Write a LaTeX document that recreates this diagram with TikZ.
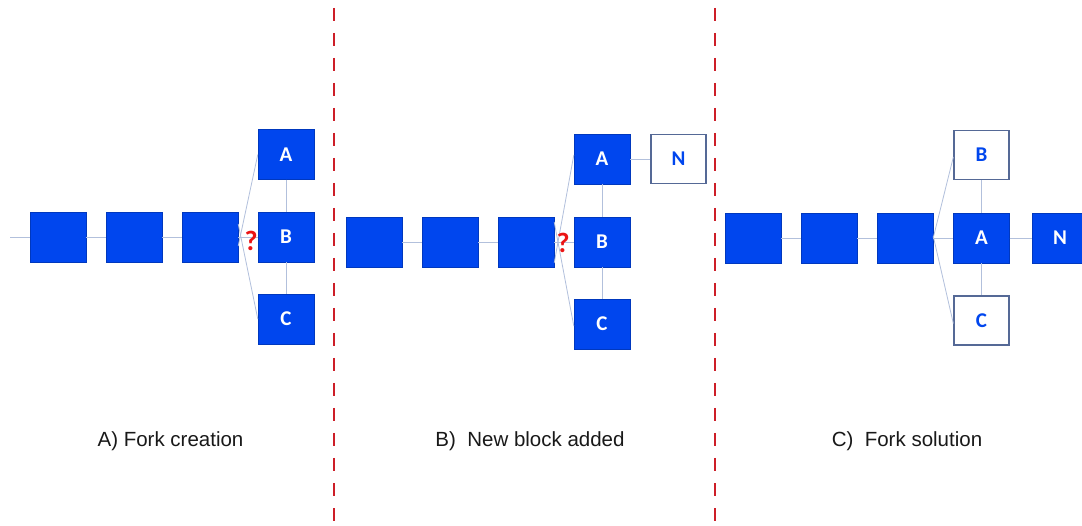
\documentclass[tikz,border=0pt]{standalone}
\usepackage{fontspec}
\setmainfont{Liberation Sans}
\newfontfamily\boxfont{Carlito}
\definecolor{blkblue}{RGB}{0,70,238}
\definecolor{outl}{RGB}{85,105,150}
\definecolor{conn}{RGB}{178,192,220}
\definecolor{divred}{RGB}{205,30,40}
\definecolor{qred}{RGB}{235,20,20}
\begin{document}
\begin{tikzpicture}[x=1pt,y=-1pt,
  blk/.style={rectangle,fill=blkblue,draw=blkblue!80!black,line width=0.4pt,minimum width=56pt,minimum height=50pt,inner sep=0pt,
    font=\boxfont\bfseries\fontsize{21}{21}\selectfont,text=white},
  oblk/.style={rectangle,fill=white,draw=outl,line width=1.3pt,minimum width=55pt,minimum height=49pt,inner sep=0pt,
    font=\boxfont\bfseries\fontsize{21}{21}\selectfont,text=blkblue},
  link/.style={draw=conn,line width=0.8pt},
  divider/.style={draw=divred,line width=1.8pt,dash pattern=on 13pt off 12pt},
  qmark/.style={text=qred,font=\boxfont\bfseries\fontsize{28}{28}\selectfont,inner sep=0pt},
  caption/.style={font=\fontsize{20.5}{22}\selectfont,text=black!90,inner sep=0pt}
]
\useasboundingbox (0,0) rectangle (1082,526);
\fill[white] (0,0) rectangle (1082,526);

% dividers
\coordinate (d1t) at (334,8);
\coordinate (d1b) at (334,526);
\coordinate (d2t) at (715,8);
\coordinate (d2b) at (715,526);
\draw[divider] (d1t) -- (d1b);
\draw[divider] (d2t) -- (d2b);

% ---------- Panel A ----------
\coordinate (aL) at (10,237);
\node[blk] (a1) at (58,237) {};
\node[blk] (a2) at (134,237) {};
\node[blk] (a3) at (210,237) {};
\node[blk] (aA) at (286,154.5) {A};
\node[blk] (aB) at (286,237) {B};
\node[blk] (aC) at (286,319) {C};
\draw[link] (aL) -- (a1.west);
\draw[link] (a1.east) -- (a2.west);
\draw[link] (a2.east) -- (a3.west);
\draw[link] (a3.east) -- (aB.west);
\draw[link] ([yshift=-9pt]a3.east) -- (aA.west);
\draw[link] ([yshift=13pt]a3.east) -- (aC.west);
\draw[link] (aA.south) -- (aB.north);
\draw[link] (aB.south) -- (aC.north);
\node[qmark] (aq) at (251,241) {?};

% ---------- Panel B ----------
\node[blk] (b1) at (374,242) {};
\node[blk] (b2) at (450,242) {};
\node[blk] (b3) at (526,242) {};
\node[blk] (bA) at (602,159) {A};
\node[oblk] (bN) at (678.5,159) {N};
\node[blk] (bB) at (602,242) {B};
\node[blk] (bC) at (602,324) {C};
\draw[link] (b1.east) -- (b2.west);
\draw[link] (b2.east) -- (b3.west);
\draw[link] (b3.east) -- (bB.west);
\draw[link] ([yshift=-21pt]b3.east) -- ([yshift=4pt]bA.west);
\draw[link] ([yshift=20pt]b3.east) -- ([yshift=-2pt]bC.west);
\draw[link] (bA.east) -- (bN.west);
\draw[link] (bA.south) -- (bB.north);
\draw[link] (bB.south) -- (bC.north);
\node[qmark] (bq) at (563,243) {?};

% ---------- Panel C ----------
\node[blk] (c1) at (753,238) {};
\node[blk] (c2) at (829,238) {};
\node[blk] (c3) at (905,238) {};
\node[blk] (cA) at (981.5,238) {A};
\node[blk] (cN) at (1060,238) {N};
\node[oblk] (cB) at (981.5,155) {B};
\node[oblk] (cC) at (981.5,320.5) {C};
\draw[link] (c1.east) -- (c2.west);
\draw[link] (c2.east) -- (c3.west);
\draw[link] (c3.east) -- (cA.west);
\draw[link] (cA.east) -- (cN.west);
\draw[link] (c3.east) -- ([yshift=-2pt]cB.west);
\draw[link] ([yshift=2pt]c3.east) -- ([yshift=-3pt]cC.west);
\draw[link] (cB.south) -- (cA.north);
\draw[link] (cA.south) -- (cC.north);

% captions
\node[caption] (capA) at (170.5,441) {A) Fork creation};
\node[caption] (capB) at (530,441) {B)\ \ New block added};
\node[caption] (capC) at (907,441) {C)\ \ Fork solution};
\end{tikzpicture}
\end{document}
